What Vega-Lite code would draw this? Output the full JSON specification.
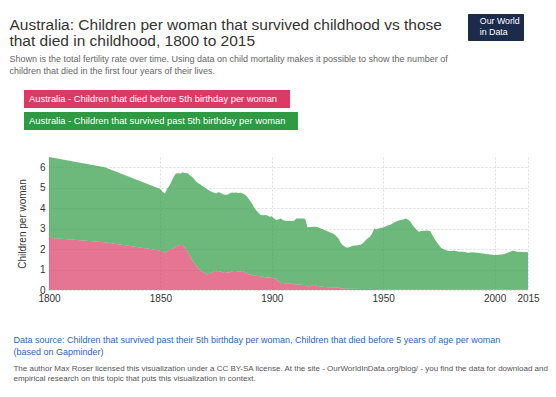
{
  "$schema": "https://vega.github.io/schema/vega-lite/v6.json",
  "background": "white",
  "padding": {"left": 9, "top": 13, "right": 8, "bottom": 5},
  "title": {
    "text": ["Australia: Children per woman that survived childhood vs those", "that died in childhood, 1800 to 2015"],
    "subtitle": ["Shown is the total fertility rate over time. Using data on child mortality makes it possible to show the number of", "children that died in the first four years of their lives."],
    "anchor": "start", "frame": "bounds", "dx": -4,
    "font": "Liberation Sans", "fontSize": 15.5, "fontWeight": "normal", "color": "#333333", "lineHeight": 16,
    "subtitleFont": "Liberation Sans", "subtitleFontSize": 9, "subtitleColor": "#666666", "subtitleLineHeight": 12, "subtitlePadding": 5,
    "offset": -62
  },
  "vconcat": [
    {
      "width": 479,
      "height": 133,
      "title": {
        "text": ["Data source: Children that survived past their 5th birthday per woman, Children that died before 5 years of age per woman", "(based on Gapminder)"],
        "subtitle": ["The author Max Roser licensed this visualization under a CC BY-SA license. At the site - OurWorldInData.org/blog/ - you find the data for download and", "empirical research on this topic that puts this visualization in context."],
        "orient": "bottom", "anchor": "start", "frame": "bounds", "dx": -4, "offset": 33,
        "font": "Liberation Sans", "fontSize": 9, "fontWeight": "normal", "color": "#2f5fc4", "lineHeight": 11.5,
        "subtitleFont": "Liberation Sans", "subtitleFontSize": 8, "subtitleColor": "#555555", "subtitleLineHeight": 10.5, "subtitlePadding": 8
      },
      "data": {
        "values": [
          {"year": 1800, "total": 6.5, "died": 2.55},
          {"year": 1825, "total": 6.0, "died": 2.33},
          {"year": 1850, "total": 4.94, "died": 1.93},
          {"year": 1851, "total": 4.8, "died": 1.86},
          {"year": 1852, "total": 4.71, "died": 1.82},
          {"year": 1853, "total": 4.95, "died": 1.9},
          {"year": 1854, "total": 5.1, "died": 1.95},
          {"year": 1855, "total": 5.3, "died": 2.0},
          {"year": 1856, "total": 5.55, "died": 2.05},
          {"year": 1857, "total": 5.69, "died": 2.12},
          {"year": 1858, "total": 5.7, "died": 2.18},
          {"year": 1859, "total": 5.68, "died": 2.2},
          {"year": 1860, "total": 5.75, "died": 2.2},
          {"year": 1861, "total": 5.7, "died": 2.05},
          {"year": 1862, "total": 5.72, "died": 1.9},
          {"year": 1863, "total": 5.63, "died": 1.72},
          {"year": 1864, "total": 5.55, "died": 1.5},
          {"year": 1865, "total": 5.45, "died": 1.35},
          {"year": 1866, "total": 5.3, "died": 1.2},
          {"year": 1867, "total": 5.22, "died": 1.05},
          {"year": 1868, "total": 5.15, "died": 0.95},
          {"year": 1869, "total": 5.07, "died": 0.89},
          {"year": 1870, "total": 5.0, "died": 0.82},
          {"year": 1871, "total": 4.92, "died": 0.76},
          {"year": 1872, "total": 4.85, "died": 0.8},
          {"year": 1873, "total": 4.8, "died": 0.85},
          {"year": 1874, "total": 4.75, "died": 0.9},
          {"year": 1875, "total": 4.72, "died": 0.96},
          {"year": 1876, "total": 4.78, "died": 0.88},
          {"year": 1877, "total": 4.75, "died": 0.9},
          {"year": 1878, "total": 4.68, "died": 0.85},
          {"year": 1879, "total": 4.66, "died": 0.88},
          {"year": 1880, "total": 4.65, "died": 0.86},
          {"year": 1881, "total": 4.72, "died": 0.85},
          {"year": 1882, "total": 4.76, "died": 0.9},
          {"year": 1883, "total": 4.75, "died": 0.88},
          {"year": 1884, "total": 4.76, "died": 0.88},
          {"year": 1885, "total": 4.74, "died": 0.92},
          {"year": 1886, "total": 4.75, "died": 0.9},
          {"year": 1887, "total": 4.72, "died": 0.93},
          {"year": 1888, "total": 4.65, "died": 0.85},
          {"year": 1889, "total": 4.55, "died": 0.8},
          {"year": 1890, "total": 4.4, "died": 0.76},
          {"year": 1891, "total": 4.25, "died": 0.74},
          {"year": 1892, "total": 4.05, "died": 0.7},
          {"year": 1893, "total": 3.9, "died": 0.7},
          {"year": 1894, "total": 3.78, "died": 0.68},
          {"year": 1895, "total": 3.66, "died": 0.65},
          {"year": 1896, "total": 3.65, "died": 0.66},
          {"year": 1897, "total": 3.66, "died": 0.62},
          {"year": 1898, "total": 3.64, "died": 0.6},
          {"year": 1899, "total": 3.58, "died": 0.62},
          {"year": 1900, "total": 3.6, "died": 0.57},
          {"year": 1901, "total": 3.5, "died": 0.58},
          {"year": 1902, "total": 3.42, "died": 0.55},
          {"year": 1903, "total": 3.45, "died": 0.4},
          {"year": 1904, "total": 3.5, "died": 0.36},
          {"year": 1905, "total": 3.42, "died": 0.34},
          {"year": 1906, "total": 3.38, "died": 0.32},
          {"year": 1907, "total": 3.37, "died": 0.31},
          {"year": 1908, "total": 3.38, "died": 0.31},
          {"year": 1909, "total": 3.37, "died": 0.3},
          {"year": 1910, "total": 3.38, "died": 0.28},
          {"year": 1911, "total": 3.5, "died": 0.28},
          {"year": 1912, "total": 3.5, "died": 0.27},
          {"year": 1913, "total": 3.5, "died": 0.26},
          {"year": 1914, "total": 3.5, "died": 0.25},
          {"year": 1915, "total": 3.48, "died": 0.24},
          {"year": 1916, "total": 3.07, "died": 0.18},
          {"year": 1917, "total": 3.08, "died": 0.15},
          {"year": 1918, "total": 3.08, "died": 0.22},
          {"year": 1919, "total": 3.09, "died": 0.25},
          {"year": 1920, "total": 3.09, "died": 0.22},
          {"year": 1921, "total": 3.05, "died": 0.18},
          {"year": 1922, "total": 3.0, "died": 0.17},
          {"year": 1923, "total": 2.96, "died": 0.16},
          {"year": 1924, "total": 2.92, "died": 0.15},
          {"year": 1925, "total": 2.87, "died": 0.14},
          {"year": 1926, "total": 2.82, "died": 0.13},
          {"year": 1927, "total": 2.78, "died": 0.13},
          {"year": 1928, "total": 2.72, "died": 0.12},
          {"year": 1929, "total": 2.63, "died": 0.12},
          {"year": 1930, "total": 2.5, "died": 0.12},
          {"year": 1931, "total": 2.3, "died": 0.08},
          {"year": 1932, "total": 2.18, "died": 0.07},
          {"year": 1933, "total": 2.1, "died": 0.07},
          {"year": 1934, "total": 2.06, "died": 0.06},
          {"year": 1935, "total": 2.1, "died": 0.06},
          {"year": 1936, "total": 2.15, "died": 0.06},
          {"year": 1937, "total": 2.17, "died": 0.06},
          {"year": 1938, "total": 2.18, "died": 0.05},
          {"year": 1939, "total": 2.2, "died": 0.05},
          {"year": 1940, "total": 2.22, "died": 0.05},
          {"year": 1941, "total": 2.3, "died": 0.05},
          {"year": 1942, "total": 2.42, "died": 0.05},
          {"year": 1943, "total": 2.52, "died": 0.05},
          {"year": 1944, "total": 2.6, "died": 0.05},
          {"year": 1945, "total": 2.75, "died": 0.05},
          {"year": 1946, "total": 3.01, "died": 0.05},
          {"year": 1947, "total": 2.96, "died": 0.05},
          {"year": 1948, "total": 3.0, "died": 0.04},
          {"year": 1949, "total": 3.04, "died": 0.04},
          {"year": 1950, "total": 3.05, "died": 0.04},
          {"year": 1951, "total": 3.1, "died": 0.04},
          {"year": 1952, "total": 3.15, "died": 0.04},
          {"year": 1953, "total": 3.18, "died": 0.04},
          {"year": 1954, "total": 3.24, "died": 0.04},
          {"year": 1955, "total": 3.3, "died": 0.04},
          {"year": 1956, "total": 3.36, "died": 0.03},
          {"year": 1957, "total": 3.4, "died": 0.03},
          {"year": 1958, "total": 3.42, "died": 0.03},
          {"year": 1959, "total": 3.44, "died": 0.03},
          {"year": 1960, "total": 3.5, "died": 0.03},
          {"year": 1961, "total": 3.45, "died": 0.03},
          {"year": 1962, "total": 3.37, "died": 0.03},
          {"year": 1963, "total": 3.2, "died": 0.03},
          {"year": 1964, "total": 3.07, "died": 0.03},
          {"year": 1965, "total": 2.95, "died": 0.02},
          {"year": 1966, "total": 2.85, "died": 0.02},
          {"year": 1967, "total": 2.88, "died": 0.02},
          {"year": 1968, "total": 2.89, "died": 0.02},
          {"year": 1969, "total": 2.9, "died": 0.02},
          {"year": 1970, "total": 2.91, "died": 0.02},
          {"year": 1971, "total": 2.88, "died": 0.02},
          {"year": 1972, "total": 2.7, "died": 0.02},
          {"year": 1973, "total": 2.5, "died": 0.02},
          {"year": 1974, "total": 2.35, "died": 0.02},
          {"year": 1975, "total": 2.2, "died": 0.02},
          {"year": 1976, "total": 2.05, "died": 0.01},
          {"year": 1977, "total": 2.0, "died": 0.01},
          {"year": 1978, "total": 1.95, "died": 0.01},
          {"year": 1979, "total": 1.92, "died": 0.01},
          {"year": 1980, "total": 1.9, "died": 0.01},
          {"year": 1982, "total": 1.92, "died": 0.01},
          {"year": 1984, "total": 1.87, "died": 0.01},
          {"year": 1986, "total": 1.87, "died": 0.01},
          {"year": 1988, "total": 1.82, "died": 0.01},
          {"year": 1990, "total": 1.85, "died": 0.01},
          {"year": 1992, "total": 1.82, "died": 0.01},
          {"year": 1994, "total": 1.8, "died": 0.01},
          {"year": 1996, "total": 1.76, "died": 0.01},
          {"year": 1998, "total": 1.74, "died": 0.01},
          {"year": 2000, "total": 1.71, "died": 0.01},
          {"year": 2002, "total": 1.72, "died": 0.01},
          {"year": 2004, "total": 1.75, "died": 0.01},
          {"year": 2006, "total": 1.82, "died": 0.01},
          {"year": 2008, "total": 1.92, "died": 0.01},
          {"year": 2009, "total": 1.9, "died": 0.01},
          {"year": 2010, "total": 1.87, "died": 0.01},
          {"year": 2012, "total": 1.86, "died": 0.01},
          {"year": 2015, "total": 1.85, "died": 0.01}
        ]
      },
      "layer": [
        {
          "mark": {"type": "area", "opacity": 0.7},
          "encoding": {
            "x": {"field": "year", "type": "quantitative", "scale": {"domain": [1800, 2015], "nice": false, "zero": false},
                  "axis": {"title": null, "values": [1800, 1850, 1900, 1950, 2000, 2015], "format": "d", "labelPadding": 3, "grid": true, "gridDash": [2, 2], "gridColor": "#dddddd", "labelFlush": false, "labelOverlap": false}},
            "y": {"field": "died", "type": "quantitative", "scale": {"domain": [0, 6.5], "nice": false},
                  "axis": {"title": "Children per woman", "values": [0, 1, 2, 3, 4, 5, 6], "labelPadding": 4, "titlePadding": 12, "grid": true, "gridDash": [2, 2], "gridColor": "#dddddd", "labelOverlap": false}},
            "color": {
              "datum": "Australia - Children that died before 5th birthday per woman",
              "type": "nominal",
              "scale": {"domain": ["Australia - Children that died before 5th birthday per woman", "Australia - Children that survived past 5th birthday per woman"], "range": ["#dc3a65", "#2f9a43"]},
              "legend": {
                "title": null, "orient": "none", "legendX": -25, "legendY": -67, "padding": 0,
                "symbolSize": 324, "symbolOpacity": 1, "symbolStrokeWidth": 0, "rowPadding": 4,
                "labelColor": "white", "labelFont": "Liberation Sans", "labelFontSize": 9.4, "labelOffset": -13, "labelLimit": 0,
                "encode": {"symbols": {"update": {
                  "shape": {"signal": "indexof(datum.value, 'died') >= 0 ? 'M-1,-1H28.56V1H-1Z' : 'M-1,-1H29.44V1H-1Z'"},
                  "opacity": {"value": 1}, "fillOpacity": {"value": 1}, "strokeWidth": {"value": 0}
                }}}
              }
            }
          }
        },
        {
          "mark": {"type": "area", "opacity": 0.7},
          "encoding": {
            "x": {"field": "year", "type": "quantitative",
                  "axis": {"title": null, "values": [1800, 1850, 1900, 1950, 2000, 2015], "format": "d", "labelPadding": 3, "grid": true, "gridDash": [2, 2], "gridColor": "#dddddd", "labelFlush": false, "labelOverlap": false}},
            "y": {"field": "total", "type": "quantitative",
                  "axis": {"title": "Children per woman", "values": [0, 1, 2, 3, 4, 5, 6], "labelPadding": 4, "titlePadding": 12, "grid": true, "gridDash": [2, 2], "gridColor": "#dddddd", "labelOverlap": false}},
            "y2": {"field": "died"},
            "color": {"datum": "Australia - Children that survived past 5th birthday per woman", "type": "nominal"},
            "opacity": {
              "datum": "Our World in Data", "type": "nominal",
              "scale": {"type": "ordinal", "domain": ["Our World in Data"], "range": [0.7]},
              "legend": {
                "title": null, "orient": "none", "legendX": 419, "legendY": -143,
                "fillColor": "#1c2a4c", "strokeColor": "#1c2a4c", "padding": 3,
                "symbolSize": 0, "symbolOpacity": 0, "symbolStrokeWidth": 0, "labelOffset": 0,
                "labelColor": "white", "labelFont": "Liberation Sans", "labelFontSize": 8.8, "labelFontWeight": "normal", "labelLimit": 0,
                "labelExpr": "['Our World', 'in Data']",
                "encode": {"labels": {"update": {"lineHeight": {"value": 10.5}}}}
              }
            }
          }
        }
      ]
    }
  ],
  "config": {
    "view": {"stroke": null},
    "axis": {"labelFont": "Liberation Sans", "labelFontSize": 10, "labelColor": "#333333", "titleFont": "Liberation Sans", "titleFontSize": 10, "titleFontWeight": "normal", "titleColor": "#333333", "domain": false, "ticks": false}
  }
}
